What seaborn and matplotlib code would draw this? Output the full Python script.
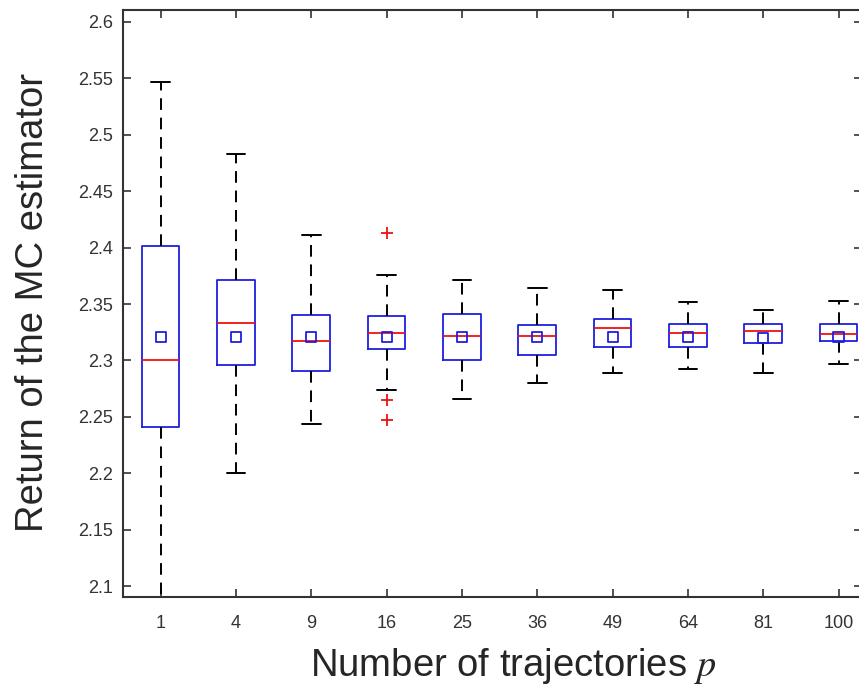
import matplotlib
matplotlib.use('Agg')
import matplotlib.pyplot as plt
import seaborn as sns
import numpy as np
import pandas as pd

# Box statistics per number of trajectories p
p_labels = ['1', '4', '9', '16', '25', '36', '49', '64', '81', '100']
whislo = [2.065, 2.200, 2.244, 2.274, 2.266, 2.280, 2.289, 2.292, 2.289, 2.297]
q1 = [2.241, 2.296, 2.291, 2.310, 2.300, 2.305, 2.312, 2.312, 2.315, 2.317]
medians = [2.300, 2.333, 2.317, 2.324, 2.322, 2.322, 2.329, 2.324, 2.326, 2.323]
q3 = [2.401, 2.371, 2.340, 2.339, 2.341, 2.331, 2.337, 2.332, 2.332, 2.332]
whishi = [2.547, 2.483, 2.411, 2.376, 2.371, 2.364, 2.362, 2.352, 2.345, 2.353]
means = [2.321, 2.321, 2.321, 2.321, 2.321, 2.321, 2.321, 2.321, 2.320, 2.321]
outliers = [[], [], [], [2.413, 2.265, 2.247], [], [], [], [], [], []]

y_ticks = [2.1, 2.15, 2.2, 2.25, 2.3, 2.35, 2.4, 2.45, 2.5, 2.55, 2.6]

sns.set_style('ticks')
plt.rcParams['font.family'] = ['Liberation Sans', 'DejaVu Sans']
plt.rcParams['mathtext.fontset'] = 'stix'

fig = plt.figure(figsize=(8.59, 6.94), dpi=100)
ax = fig.add_axes([123 / 859, 97 / 694, 739 / 859, 587 / 694])

stats = []
for i in range(len(p_labels)):
    stats.append(dict(label=p_labels[i], whislo=whislo[i], q1=q1[i], med=medians[i],
                      q3=q3[i], whishi=whishi[i], fliers=outliers[i]))

positions = np.arange(1, len(p_labels) + 1)
ax.bxp(stats, positions=positions, widths=0.5, capwidths=0.25, showfliers=True,
       boxprops=dict(color='#1f1fe0', linewidth=1.3),
       medianprops=dict(color='#ee1111', linewidth=1.3),
       whiskerprops=dict(color='black', linewidth=1.4, linestyle=(0, (6, 4))),
       capprops=dict(color='black', linewidth=1.4),
       flierprops=dict(marker='+', markeredgecolor='#ee1111', markersize=9,
                       markeredgewidth=1.3, linestyle='none'))

mean_df = pd.DataFrame({'pos': positions, 'mean': means})
sns.scatterplot(data=mean_df, x='pos', y='mean', marker='s', s=55,
                facecolor='none', edgecolor='#1f1fe0', linewidth=1.3, ax=ax, zorder=5)

ax.set_xlim(0.5, 10.31)
ax.set_ylim(2.0903, 2.6106)
ax.set_xticks(positions)
ax.set_xticklabels(p_labels)
ax.set_yticks(y_ticks)
ax.set_yticklabels([f'{v:g}' for v in y_ticks])

ax.tick_params(direction='in', length=6, width=1.2, top=True, right=True,
               labelsize=13, labelcolor='#333333', color='#333333')
ax.tick_params(axis='y', pad=7)
ax.tick_params(axis='x', pad=13)
for s in ax.spines.values():
    s.set_linewidth(1.5)
    s.set_color('#333333')

ax.set_xlabel('Number of trajectories $p$', fontsize=27.5)
ax.set_ylabel('Return of the MC estimator', fontsize=27.5)
ax.xaxis.set_label_coords(0.528, -0.0835)
ax.yaxis.set_label_coords(-0.0974, 0.501)

fig.savefig('out.png', dpi=100)
